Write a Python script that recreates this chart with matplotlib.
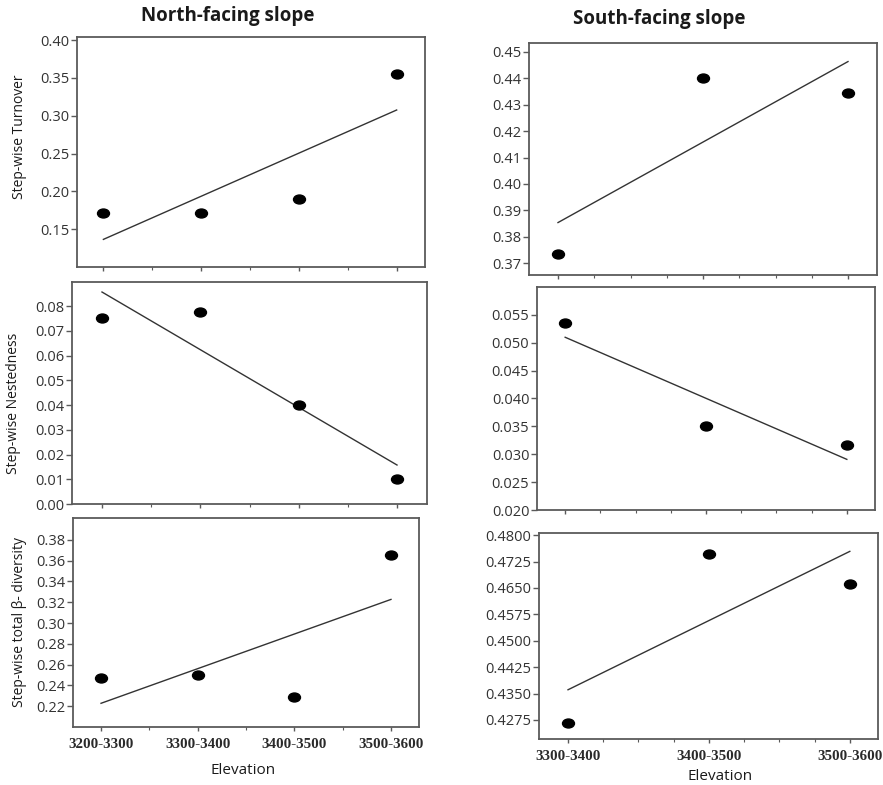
import numpy as np
import matplotlib
matplotlib.use("Agg")
import matplotlib.pyplot as plt
from matplotlib.path import Path

# Elevation bands
north_bands = ["3200-3300", "3300-3400", "3400-3500", "3500-3600"]
south_bands = ["3300-3400", "3400-3500", "3500-3600"]

# Step-wise beta-diversity components, north-facing slope
north_turnover = [0.171, 0.172, 0.190, 0.355]
north_nestedness = [0.0753, 0.0775, 0.0398, 0.0102]
north_total = [0.247, 0.250, 0.229, 0.365]

# Step-wise beta-diversity components, south-facing slope
south_turnover = [0.3733, 0.4400, 0.4343]
south_nestedness = [0.0535, 0.0350, 0.0316]
south_total = [0.4267, 0.4745, 0.4660]

W, H = 883, 785
fig = plt.figure(figsize=(W / 100, H / 100), dpi=100)
fig.patch.set_facecolor("white")

SANS = ["Open Sans", "DejaVu Sans"]
TICK_COLOR = "#333333"
SPINE_COLOR = "#5a5a5a"

# slightly flattened dot marker
circ = Path.unit_circle()
dot = Path(circ.vertices * np.array([1.0, 0.75]), circ.codes)


def add_panel(box, xlim, ylim, yticks, yfmt, values, bands, minor_step,
              show_xlabels=False):
    left, top, right, bottom = box
    ax = fig.add_axes([left / W, 1 - bottom / H, (right - left) / W,
                       (bottom - top) / H])
    x = np.arange(len(values))
    y = np.array(values)
    slope, intercept = np.polyfit(x, y, 1)
    ax.plot(x, intercept + slope * x, color="#333333", lw=1.0, zorder=2)
    ax.plot(x, y, linestyle="none", marker=dot, markersize=8.6,
            color="black", zorder=3)
    ax.set_xlim(*xlim)
    ax.set_ylim(*ylim)
    ax.set_yticks(yticks)
    ax.set_yticklabels([yfmt.format(v) for v in yticks])
    ax.set_xticks(x)
    ax.set_xticks(np.arange(0, len(values) - 1 + 1e-9, minor_step), minor=True)
    if show_xlabels:
        ax.set_xticklabels(bands, fontfamily="Liberation Serif",
                           fontweight="bold", fontsize=10.8, color="#2a2a2a")
    else:
        ax.set_xticklabels([])
    for s in ax.spines.values():
        s.set_color(SPINE_COLOR)
        s.set_linewidth(1.3)
    ax.tick_params(axis="y", which="major", direction="out", length=4,
                   width=1, color=SPINE_COLOR, labelsize=10.5,
                   labelcolor=TICK_COLOR, pad=1.5)
    ax.tick_params(axis="x", which="major", direction="out", length=3,
                   width=1, color=SPINE_COLOR, pad=5)
    ax.tick_params(axis="x", which="minor", direction="out", length=2,
                   width=0.8, color=SPINE_COLOR)
    for lab in ax.get_yticklabels():
        lab.set_fontfamily(SANS)
    return ax


ax1 = add_panel((77, 37, 425, 267), (-0.27, 3.29), (0.10, 0.404),
                [0.15, 0.20, 0.25, 0.30, 0.35, 0.40], "{:.2f}",
                north_turnover, north_bands, 0.5)
ax3 = add_panel((72, 282, 427, 504), (-0.305, 3.305), (0.0, 0.0897),
                [0.00, 0.01, 0.02, 0.03, 0.04, 0.05, 0.06, 0.07, 0.08],
                "{:.2f}", north_nestedness, north_bands, 0.5)
ax5 = add_panel((73, 518, 419, 727), (-0.29, 3.29), (0.20, 0.401),
                [0.22, 0.24, 0.26, 0.28, 0.30, 0.32, 0.34, 0.36, 0.38],
                "{:.2f}", north_total, north_bands, 0.5, show_xlabels=True)

ax2 = add_panel((529, 43, 877, 275), (-0.2, 2.2), (0.3655, 0.4534),
                [0.37, 0.38, 0.39, 0.40, 0.41, 0.42, 0.43, 0.44, 0.45],
                "{:.2f}", south_turnover, south_bands, 0.25)
ax4 = add_panel((537, 287, 875, 510), (-0.2, 2.2), (0.020, 0.060),
                [0.020, 0.025, 0.030, 0.035, 0.040, 0.045, 0.050, 0.055],
                "{:.3f}", south_nestedness, south_bands, 0.25)
ax6 = add_panel((539, 533, 878, 739), (-0.206, 2.2), (0.4221, 0.4806),
                [0.4275, 0.4350, 0.4425, 0.4500, 0.4575, 0.4650, 0.4725,
                 0.4800],
                "{:.4f}", south_total, south_bands, 0.25, show_xlabels=True)

# Column titles
fig.text(228 / W, 1 - 16 / H, "North-facing slope", ha="center",
         va="center", fontsize=13.5, fontweight="bold", fontfamily=SANS,
         color="#1a1a1a")
fig.text(659 / W, 1 - 19 / H, "South-facing slope", ha="center",
         va="center", fontsize=13.5, fontweight="bold", fontfamily=SANS,
         color="#1a1a1a")

# Row labels
for ax, txt, px, py in [(ax1, "Step-wise Turnover", 20, 137),
                        (ax3, "Step-wise Nestedness", 14, 403),
                        (ax5, "Step-wise total \u03b2- diversity", 20, 622)]:
    fig.text(px / W, 1 - py / H, txt, rotation=90, ha="center",
             va="center", fontsize=10, fontfamily=SANS, color="#1a1a1a")

# Elevation axis labels
fig.text(243 / W, 1 - 771 / H, "Elevation", ha="center", va="center",
         fontsize=11, fontfamily=SANS, color="#1a1a1a")
fig.text(720 / W, 1 - 777 / H, "Elevation", ha="center", va="center",
         fontsize=11, fontfamily=SANS, color="#1a1a1a")

fig.savefig("out.png", dpi=100, facecolor="white")
